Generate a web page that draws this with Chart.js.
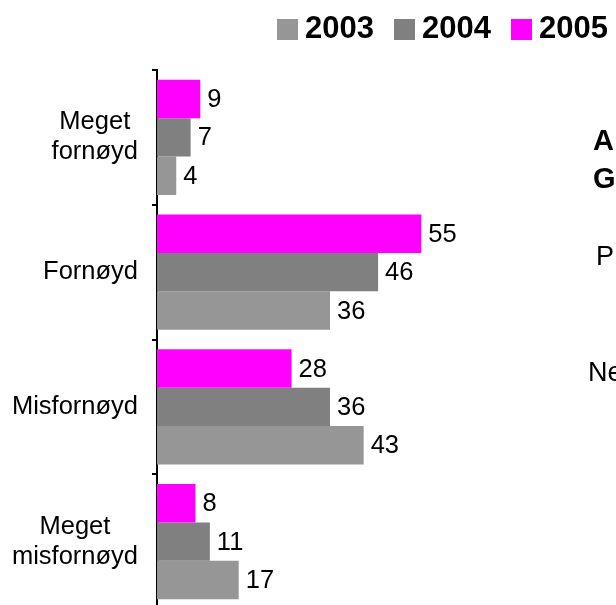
<!DOCTYPE html>
<html>
<head>
<meta charset="utf-8">
<script src="https://cdn.jsdelivr.net/npm/chart.js@4"></script>
<style>
  html, body { margin: 0; padding: 0; background: #fff; overflow: hidden; }
  #wrap { position: relative; width: 616px; height: 605px; overflow: hidden; }
  #legend {
    position: absolute; left: 277px; top: 10px;
    display: flex; align-items: center;
    font: bold 31px "Liberation Sans", Arial, sans-serif; color: #000;
  }
  .item { display: flex; align-items: center; margin-right: 20px; }
  .box { width: 21px; height: 21px; margin-right: 7px; margin-top: 2px; }
</style>
</head>
<body>
<div id="wrap">
  <canvas id="myChart" width="616" height="612"></canvas>
  <div id="legend"></div>
</div>
<script>
  const categories = [['Meget', 'fornøyd'], ['Fornøyd'], ['Misfornøyd'], ['Meget', 'misfornøyd']];
  const years = ['2003', '2004', '2005'];
  const values2003 = [4, 36, 43, 17];
  const values2004 = [7, 46, 36, 11];
  const values2005 = [9, 55, 28, 8];
  const colors = { '2003': '#969696', '2004': '#808080', '2005': '#FF00FF' };
  const sideText = [
    { text: 'A', x: 593, y: 142, bold: true },
    { text: 'G', x: 593, y: 180, bold: true },
    { text: 'P', x: 596, y: 258, bold: false },
    { text: 'Ne', x: 588, y: 374, bold: false }
  ];

  const fontFamily = '"Liberation Sans", Arial, sans-serif';

  // HTML legend, 2003 first
  const legend = document.getElementById('legend');
  years.forEach(year => {
    const item = document.createElement('div');
    item.className = 'item';
    item.innerHTML = `<span class="box" style="background:${colors[year]}"></span><span>${year}</span>`;
    legend.appendChild(item);
  });

  // value labels at the end of each bar
  const valueLabels = {
    id: 'valueLabels',
    afterDatasetsDraw(chart) {
      const ctx = chart.ctx;
      ctx.save();
      ctx.font = '25.5px ' + fontFamily;
      ctx.fillStyle = '#000';
      ctx.textAlign = 'left';
      ctx.textBaseline = 'middle';
      chart.data.datasets.forEach((ds, i) => {
        chart.getDatasetMeta(i).data.forEach((bar, j) => {
          ctx.fillText(ds.data[j], bar.x + 7, bar.y + 1);
        });
      });
      ctx.restore();
    }
  };

  // category labels: right-aligned block, lines centred inside it
  const categoryLabels = {
    id: 'categoryLabels',
    afterDraw(chart) {
      const ctx = chart.ctx;
      const scale = chart.scales.y;
      ctx.save();
      ctx.font = '25.5px ' + fontFamily;
      ctx.fillStyle = '#000';
      ctx.textAlign = 'center';
      ctx.textBaseline = 'middle';
      categories.forEach((lines, i) => {
        const blockW = Math.max(...lines.map(l => ctx.measureText(l).width));
        const cx = 138 - blockW / 2;
        const cy = scale.getPixelForValue(i);
        lines.forEach((line, j) => {
          ctx.fillText(line, cx, cy + (j - (lines.length - 1) / 2) * 30);
        });
      });
      // text of the neighbouring box, cut by the right edge
      ctx.textAlign = 'left';
      sideText.forEach(t => {
        ctx.font = (t.bold ? 'bold 29px ' : '27px ') + fontFamily;
        ctx.fillText(t.text, t.x, t.y);
      });
      ctx.restore();
    }
  };

  const ctx = document.getElementById('myChart').getContext('2d');
  new Chart(ctx, {
    type: 'bar',
    data: {
      labels: categories.map(c => c.join(' ')),
      datasets: [
        { label: '2005', data: values2005, backgroundColor: colors['2005'] },
        { label: '2004', data: values2004, backgroundColor: colors['2004'] },
        { label: '2003', data: values2003, backgroundColor: colors['2003'] }
      ]
    },
    options: {
      indexAxis: 'y',
      responsive: false,
      animation: false,
      layout: { padding: { top: 70, bottom: 3, left: 0, right: 0 } },
      datasets: { bar: { barPercentage: 1, categoryPercentage: 0.855, borderWidth: 0 } },
      scales: {
        x: { display: false, min: 0, max: 95.5 },
        y: {
          afterFit(scale) { scale.width = 157; },
          ticks: { display: false },
          border: { display: true, color: '#000', width: 2 },
          grid: { offset: true, drawOnChartArea: false, drawTicks: true, tickLength: 5, color: '#000', lineWidth: 2 }
        }
      },
      plugins: {
        legend: { display: false },
        tooltip: { enabled: false }
      }
    },
    plugins: [valueLabels, categoryLabels]
  });
</script>
</body>
</html>
